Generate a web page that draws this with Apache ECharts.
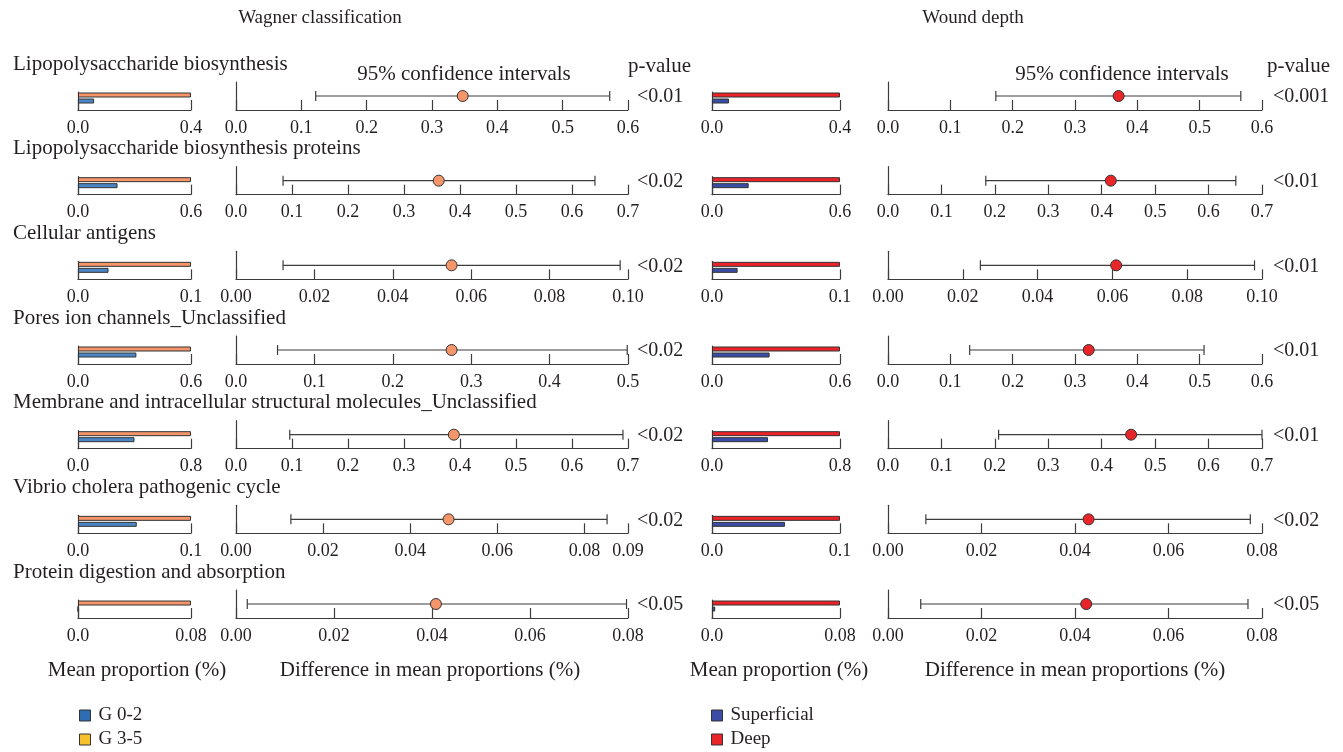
<!DOCTYPE html>
<html>
<head>
<meta charset="utf-8">
<script src="https://cdn.jsdelivr.net/npm/echarts@6/dist/echarts.min.js"></script>
<style>
  html, body { margin: 0; padding: 0; background: #fff; }
  #chart { width: 1343px; height: 752px; }
</style>
</head>
<body>
<div id="chart"></div>
<script>
// 通路名称（两个面板共用）
const pathways = [
  'Lipopolysaccharide biosynthesis',
  'Lipopolysaccharide biosynthesis proteins',
  'Cellular antigens',
  'Pores ion channels_Unclassified',
  'Membrane and intracellular structural molecules_Unclassified',
  'Vibrio cholera pathogenic cycle',
  'Protein digestion and absorption'
];

// 平均比例轴的最大值（两个面板相同）
const barMax = [0.4, 0.6, 0.1, 0.6, 0.8, 0.1, 0.08];

// Wagner 分级
const wagnerLow = [0.057, 0.21, 0.027, 0.31, 0.40, 0.052, 0];      // G 0-2
const wagnerHigh = [0.4, 0.6, 0.1, 0.6, 0.8, 0.1, 0.08];           // G 3-5
const wagnerDiff = [0.347, 0.362, 0.055, 0.275, 0.389, 0.0488, 0.0408];
const wagnerCiLow = [0.122, 0.084, 0.012, 0.053, 0.096, 0.0126, 0.0023];
const wagnerCiHigh = [0.572, 0.641, 0.098, 0.499, 0.691, 0.0852, 0.0797];
const wagnerCiMax = [0.6, 0.7, 0.10, 0.5, 0.7, 0.09, 0.08];
const wagnerCiStep = [0.1, 0.1, 0.02, 0.1, 0.1, 0.02, 0.02];
const wagnerP = ['<0.01', '<0.02', '<0.02', '<0.02', '<0.02', '<0.02', '<0.05'];

// 伤口深度
const depthLow = [0.053, 0.172, 0.020, 0.27, 0.35, 0.057, 0.002];   // Superficial
const depthHigh = [0.4, 0.6, 0.1, 0.6, 0.8, 0.1, 0.08];             // Deep
const depthDiff = [0.370, 0.417, 0.061, 0.322, 0.455, 0.0429, 0.0424];
const depthCiLow = [0.173, 0.183, 0.0247, 0.131, 0.207, 0.0081, 0.0070];
const depthCiHigh = [0.566, 0.651, 0.098, 0.507, 0.70, 0.0775, 0.0770];
const depthCiMax = [0.6, 0.7, 0.10, 0.6, 0.7, 0.08, 0.08];
const depthCiStep = [0.1, 0.1, 0.02, 0.1, 0.1, 0.02, 0.02];
const depthP = ['<0.001', '<0.01', '<0.01', '<0.01', '<0.01', '<0.02', '<0.05'];

const FONT = 'Liberation Serif';
const TEXT = '#231f20';
const AXIS = '#3c3c3c';

const panels = [
  {
    title: 'Wagner classification', titleX: 320,
    lowName: 'G 0-2', highName: 'G 3-5',
    lowColor: '#4a86c6', highColor: '#f6956a', dotColor: '#f4956a',
    legendLow: '#2e6db4', legendHigh: '#f6c12b',
    barLeft: 78, barWidth: 113, ciLeft: 236, ciWidth: 392,
    pX: 637, pHeadX: 628, ciTitleX: 464, meanX: 137, diffX: 430, legendX: 79,
    low: wagnerLow, high: wagnerHigh, diff: wagnerDiff,
    ciLow: wagnerCiLow, ciHigh: wagnerCiHigh, ciMax: wagnerCiMax, ciStep: wagnerCiStep, p: wagnerP
  },
  {
    title: 'Wound depth', titleX: 973,
    lowName: 'Superficial', highName: 'Deep',
    lowColor: '#3a4ca6', highColor: '#ec2228', dotColor: '#e8262a',
    legendLow: '#3a4ca6', legendHigh: '#e8262a',
    barLeft: 712, barWidth: 128, ciLeft: 888, ciWidth: 374,
    pX: 1273, pHeadX: 1267, ciTitleX: 1122, meanX: 779, diffX: 1075, legendX: 711,
    low: depthLow, high: depthHigh, diff: depthDiff,
    ciLow: depthCiLow, ciHigh: depthCiHigh, ciMax: depthCiMax, ciStep: depthCiStep, p: depthP
  }
];

const grid = [], xAxis = [], yAxis = [], series = [], graphic = [], legend = [];

function txt(text, x, y, size, align) {
  return {
    type: 'text', x: x, y: y, silent: true,
    style: { text: text, fontSize: size, fontFamily: FONT, fill: TEXT, align: align || 'center', verticalAlign: 'middle' }
  };
}

// 置信区间误差线
function renderCI(params, api) {
  const a = api.coord([api.value(0), api.value(2)]);
  const b = api.coord([api.value(1), api.value(2)]);
  const cap = 5;
  const style = { stroke: AXIS, lineWidth: 1.2 };
  return {
    type: 'group',
    children: [
      { type: 'line', shape: { x1: a[0], y1: a[1], x2: b[0], y2: b[1] }, style: style },
      { type: 'line', shape: { x1: a[0], y1: a[1] - cap, x2: a[0], y2: a[1] + cap }, style: style },
      { type: 'line', shape: { x1: b[0], y1: b[1] - cap, x2: b[0], y2: b[1] + cap }, style: style }
    ]
  };
}

function axisX(gi, max, interval, fmt) {
  return {
    gridIndex: gi, type: 'value', min: 0, max: max, interval: interval,
    axisLine: { show: true, lineStyle: { color: AXIS, width: 1.2 } },
    axisTick: { show: true, inside: true, length: 10, lineStyle: { color: AXIS, width: 1.2 } },
    axisLabel: { formatter: fmt, margin: 9, fontSize: 18, fontFamily: FONT, color: TEXT },
    splitLine: { show: false }
  };
}

function axisY(gi, cats) {
  return {
    gridIndex: gi, type: 'category', data: cats,
    axisLine: { show: true, lineStyle: { color: AXIS, width: 1.2 } },
    axisTick: { show: false }, axisLabel: { show: false }, splitLine: { show: false }
  };
}

function legendItem(name, color, x, y) {
  return {
    orient: 'vertical', left: x, top: y, padding: 0,
    itemWidth: 11, itemHeight: 11, icon: 'rect', selectedMode: false,
    textStyle: { fontSize: 19, fontFamily: FONT, color: TEXT, padding: [0, 0, 0, 3] },
    data: [{ name: name, itemStyle: { color: color, borderColor: '#333', borderWidth: 1 } }]
  };
}

panels.forEach(function (p, pi) {
  graphic.push(txt(p.title, p.titleX, 18, 19));
  graphic.push(txt('95% confidence intervals', p.ciTitleX, 74, 21));
  graphic.push(txt('p-value', p.pHeadX, 66, 21, 'left'));
  graphic.push(txt('Mean proportion (%)', p.meanX, 670, 21));
  graphic.push(txt('Difference in mean proportions (%)', p.diffX, 670, 21));

  for (let i = 0; i < pathways.length; i++) {
    const base = 110 + 84.67 * i;
    if (pi === 0) graphic.push(txt(pathways[i], 13, base - 46, 21, 'left'));

    // 平均比例条形图
    const bg = grid.length;
    grid.push({ left: p.barLeft, width: p.barWidth, top: base - 18, height: 18 });
    xAxis.push(axisX(bg, barMax[i], barMax[i], function (v) { return v === 0 ? '0.0' : String(v); }));
    yAxis.push(axisY(bg, ['', p.lowName, p.highName]));
    const barStyle = { borderColor: '#333', borderWidth: 1 };
    series.push({
      type: 'bar', name: p.lowName, xAxisIndex: bg, yAxisIndex: bg,
      barWidth: 5, barGap: '-100%', silent: true,
      itemStyle: Object.assign({ color: p.lowColor }, barStyle),
      data: [null, p.low[i], null]
    });
    series.push({
      type: 'bar', name: p.highName, xAxisIndex: bg, yAxisIndex: bg,
      barWidth: 5, barGap: '-100%', silent: true,
      itemStyle: Object.assign({ color: p.highColor }, barStyle),
      data: [null, null, p.high[i]]
    });

    // 均值差及置信区间
    const cg = grid.length;
    const dec = Math.max(0, -Math.floor(Math.log10(p.ciStep[i]) + 1e-9));
    grid.push({ left: p.ciLeft, width: p.ciWidth, top: base - 28, height: 28 });
    xAxis.push(axisX(cg, p.ciMax[i], p.ciStep[i], function (v) { return v.toFixed(dec); }));
    yAxis.push(axisY(cg, ['CI']));
    series.push({
      type: 'custom', xAxisIndex: cg, yAxisIndex: cg, silent: true,
      renderItem: renderCI, encode: { x: [0, 1], y: 2 },
      data: [[p.ciLow[i], p.ciHigh[i], 0]], z: 3
    });
    series.push({
      type: 'scatter', xAxisIndex: cg, yAxisIndex: cg, silent: true,
      symbolSize: 11, z: 4,
      itemStyle: { color: p.dotColor, borderColor: '#333', borderWidth: 1, opacity: 1 },
      data: [[p.diff[i], 0]]
    });

    graphic.push(txt(p.p[i], p.pX, base - 13, 20, 'left'));
  }

  legend.push(legendItem(p.lowName, p.legendLow, p.legendX, 706));
  legend.push(legendItem(p.highName, p.legendHigh, p.legendX, 730));
});

const chart = echarts.init(document.getElementById('chart'));
chart.setOption({
  backgroundColor: '#fff',
  animation: false,
  grid: grid, xAxis: xAxis, yAxis: yAxis, series: series,
  legend: legend, graphic: graphic
});
window.addEventListener('resize', function () { chart.resize(); });
</script>
</body>
</html>
